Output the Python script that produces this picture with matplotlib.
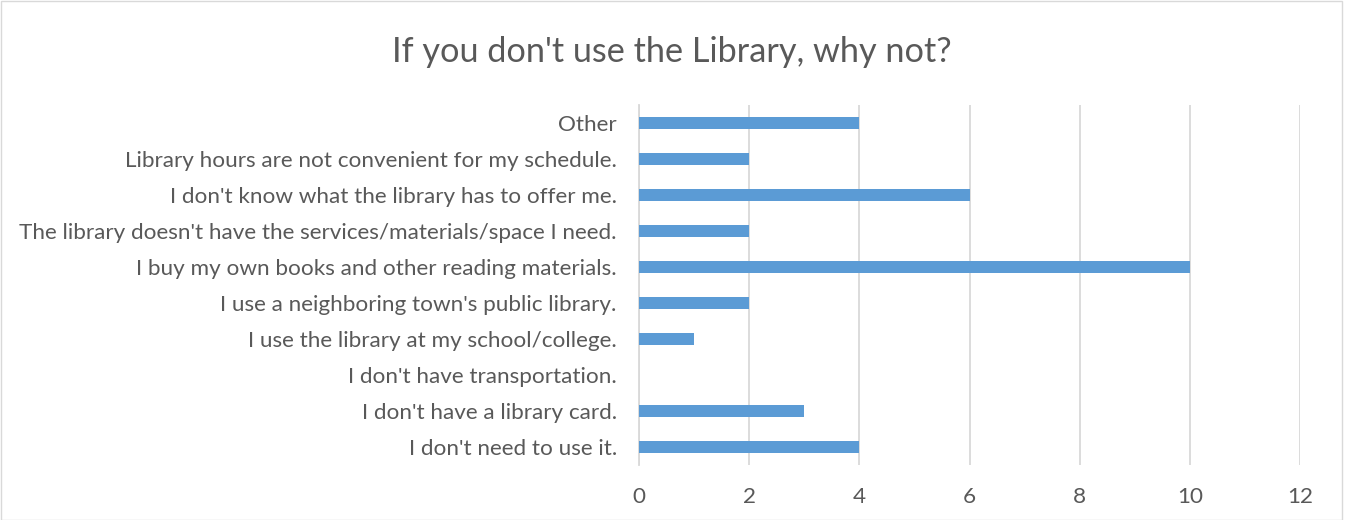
import matplotlib.pyplot as plt
from matplotlib.patches import Rectangle

categories = [
    "I don't need to use it.",
    "I don't have a library card.",
    "I don't have transportation.",
    "I use the library at my school/college.",
    "I use a neighboring town's public library.",
    "I buy my own books and other reading materials.",
    "The library doesn't have the services/materials/space I need.",
    "I don't know what the library has to offer me.",
    "Library hours are not convenient for my schedule.",
    "Other",
]
counts = [4, 3, 0, 1, 2, 10, 2, 6, 2, 4]
xticks = [0, 2, 4, 6, 8, 10, 12]

text_col = '#595959'
bar_col = '#5b9bd5'
grid_col = '#d9d9d9'

plt.rcParams['font.family'] = ['Lato', 'DejaVu Sans']

fig = plt.figure(figsize=(13.48, 5.2), dpi=100)
ax = fig.add_axes([639 / 1348, 1 - 465 / 520, 661 / 1348, 360 / 520])

ax.barh(range(len(categories)), counts, height=0.36, color=bar_col, zorder=3)
ax.set_yticks(range(len(categories)))
ax.set_yticklabels(categories, fontsize=16.2, color=text_col)
ax.set_ylim(-0.5, len(categories) - 0.5)
ax.set_xlim(0, 12)
ax.set_xticks(xticks)
ax.set_xticklabels([str(v) for v in xticks], fontsize=16.2, color=text_col)
ax.tick_params(axis='both', length=0)
ax.tick_params(axis='x', pad=16)
ax.tick_params(axis='y', pad=16)
ax.grid(axis='x', color=grid_col, lw=1.3, zorder=0)
for s in ['top', 'right', 'bottom']:
    ax.spines[s].set_visible(False)
ax.spines['left'].set_color(grid_col)
ax.spines['left'].set_linewidth(1.3)

fig.text(672 / 1348, 1 - 52 / 520, "If you don't use the Library, why not?",
         ha='center', va='center', fontsize=24.7, color=text_col)

fig.patches.append(Rectangle((0.5 / 1348, 0.5 / 520), 1341 / 1348, 1 - 1 / 520,
                             transform=fig.transFigure, fill=False,
                             edgecolor='#d9d9d9', lw=1))

fig.savefig('out.png', dpi=100)
